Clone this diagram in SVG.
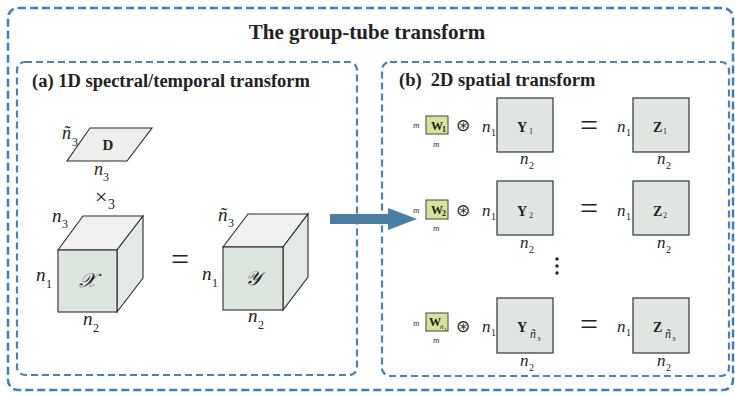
<svg xmlns="http://www.w3.org/2000/svg" width="735" height="395" viewBox="0 0 735 395">
<style>
text{font-family:"Liberation Serif","Times New Roman",serif;fill:#222}
.ttl{font-weight:bold;font-size:21px}
.ptl{font-weight:bold;font-size:18.5px}
.n{font-style:italic;font-size:19px}
.ns{font-size:12px}
.rn{font-style:italic;font-size:17px}
.rs{font-size:10px}
.m{font-style:italic;font-size:9px;fill:#333}
.w{font-weight:bold;font-size:12px}
.ws{font-weight:bold;font-size:8px}
.bl{font-weight:bold;font-size:14px}
.bs{font-size:8px}
.eq{font-size:32px}
.outer{fill:none;stroke:#3b7fc2;stroke-width:2.5;stroke-dasharray:8 4}
.panel{fill:none;stroke:#4a84aa;stroke-width:2.2;stroke-dasharray:7 4}
.front{fill:#dde5df;stroke:#2a2a2a;stroke-width:1.1}
.top{fill:#f1f2f0;stroke:#2a2a2a;stroke-width:1.1}
.side{fill:#e3e9e5;stroke:#2a2a2a;stroke-width:1.1}
.sq{fill:#dfe6e1;stroke:#333;stroke-width:1.2}
.wb{fill:#d6e39a;stroke:#444;stroke-width:1}
.sc{font-family:"DejaVu Serif","DejaVu Sans",serif;font-style:italic;font-size:20px}
.ox{font-family:"DejaVu Sans",sans-serif;font-size:17px}
</style>

<g id="frame">
  <rect class="outer" x="8" y="8" width="725" height="382" rx="10"/>
  <text class="ttl" x="367" y="39" text-anchor="middle">The group-tube transform</text>
</g>

<g id="panel-a">
  <rect class="panel" x="17" y="62" width="340" height="313" rx="8"/>
  <text class="ptl" x="32" y="87">(a) 1D spectral/temporal transform</text>
</g>

<g id="panel-b">
  <rect class="panel" x="382" y="62" width="347" height="314" rx="8"/>
  <text class="ptl" x="399" y="86" xml:space="preserve">(b)  2D spatial transform</text>
</g>

<g id="node-D">
  <polygon points="90,128 152,128 127,161 67,161" fill="#eeefed" stroke="#2a2a2a" stroke-width="1.1"/>
  <text class="bl" x="108" y="150" text-anchor="middle" style="font-size:15px">D</text>
  <text class="n" x="62" y="139" style="font-size:18px">ñ</text><text class="ns" x="72" y="146">3</text>
  <text class="n" x="94" y="175" style="font-size:18px">n</text><text class="ns" x="103" y="181">3</text>
</g>

<g id="op-mode3">
  <text x="95" y="204" style="font-size:22px">×</text>
  <text x="108" y="209" style="font-size:14px">3</text>
</g>

<g id="node-X">
  <polygon class="top" points="58,250 83,216 143,216 117,250"/>
  <polygon class="side" points="117,250 143,216 143,278 117,312"/>
  <rect class="front" x="58" y="250" width="59" height="62"/>
  <text class="sc" x="87" y="287" text-anchor="middle">𝒳</text>
  <text class="n" x="52" y="222">n</text><text class="ns" x="62" y="228">3</text>
  <text class="n" x="36" y="281">n</text><text class="ns" x="46" y="288">1</text>
  <text class="n" x="83" y="325">n</text><text class="ns" x="93" y="332">2</text>
</g>

<g id="eq-left">
  <text class="eq" x="180" y="270" text-anchor="middle">=</text>
</g>

<g id="node-Y">
  <polygon class="top" points="223,247 248,214 308,214 283,247"/>
  <polygon class="side" points="283,247 308,214 308,277 283,310"/>
  <rect class="front" x="223" y="247" width="60" height="63"/>
  <text class="sc" x="253" y="285" text-anchor="middle">𝒴</text>
  <text class="n" x="218" y="221">ñ</text><text class="ns" x="228" y="227">3</text>
  <text class="n" x="202" y="280">n</text><text class="ns" x="212" y="287">1</text>
  <text class="n" x="248" y="322">n</text><text class="ns" x="258" y="329">2</text>
</g>

<g id="connectors">
  <polygon points="330,214 388,214 388,208 417,219 388,230 388,224 330,224" fill="#4a7fa3"/>
</g>

<!-- Row 1 -->
<g id="row1-W">
  <rect class="wb" x="426" y="116" width="22" height="18"/>
  <text class="w" x="431" y="130">W</text><text class="ws" x="442" y="132">1</text>
  <text class="m" x="413" y="128">m</text>
  <text class="m" x="433" y="147">m</text>
  <text class="ox" x="463" y="131" text-anchor="middle">⊛</text>
</g>
<g id="row1-Y">
  <text class="rn" x="482" y="132">n</text><text class="rs" x="491" y="136">1</text>
  <rect class="sq" x="497" y="98" width="56" height="54"/>
  <text class="bl" x="517" y="132">Y</text><text class="bs" x="529" y="134">1</text>
  <text class="rn" x="520" y="164">n</text><text class="rs" x="529" y="169">2</text>
</g>
<g id="row1-eq"><text class="eq" x="589" y="136" text-anchor="middle">=</text></g>
<g id="row1-Z">
  <text class="rn" x="617" y="132">n</text><text class="rs" x="626" y="136">1</text>
  <rect class="sq" x="633" y="98" width="56" height="54"/>
  <text class="bl" x="653" y="132">Z</text><text class="bs" x="663" y="134">1</text>
  <text class="rn" x="657" y="164">n</text><text class="rs" x="666" y="169">2</text>
</g>

<!-- Row 2 -->
<g id="row2-W">
  <rect class="wb" x="426" y="200" width="22" height="19"/>
  <text class="w" x="431" y="214">W</text><text class="ws" x="442" y="216">2</text>
  <text class="m" x="413" y="213">m</text>
  <text class="m" x="433" y="231">m</text>
  <text class="ox" x="463" y="216" text-anchor="middle">⊛</text>
</g>
<g id="row2-Y">
  <text class="rn" x="482" y="216">n</text><text class="rs" x="491" y="220">1</text>
  <rect class="sq" x="497" y="181" width="56" height="54"/>
  <text class="bl" x="517" y="216">Y</text><text class="bs" x="529" y="218">2</text>
  <text class="rn" x="520" y="248">n</text><text class="rs" x="529" y="253">2</text>
</g>
<g id="row2-eq"><text class="eq" x="589" y="219" text-anchor="middle">=</text></g>
<g id="row2-Z">
  <text class="rn" x="617" y="216">n</text><text class="rs" x="626" y="220">1</text>
  <rect class="sq" x="633" y="181" width="56" height="54"/>
  <text class="bl" x="653" y="216">Z</text><text class="bs" x="663" y="218">2</text>
  <text class="rn" x="657" y="248">n</text><text class="rs" x="666" y="253">2</text>
</g>

<g id="vdots">
  <circle cx="557" cy="259" r="1.7" fill="#222"/>
  <circle cx="557" cy="266" r="1.7" fill="#222"/>
  <circle cx="557" cy="273" r="1.7" fill="#222"/>
</g>

<!-- Row 3 -->
<g id="row3-W">
  <rect class="wb" x="426" y="313" width="22" height="18"/>
  <text class="w" x="429" y="326">W</text><text class="ws" x="440" y="329" style="font-style:italic;font-weight:normal;font-size:7px">ñ</text><text x="444" y="331" style="font-size:5px">3</text>
  <text class="m" x="413" y="326">m</text>
  <text class="m" x="433" y="343">m</text>
  <text class="ox" x="463" y="332" text-anchor="middle">⊛</text>
</g>
<g id="row3-Y">
  <text class="rn" x="482" y="332">n</text><text class="rs" x="491" y="336">1</text>
  <rect class="sq" x="497" y="298" width="56" height="55"/>
  <text class="bl" x="517" y="332">Y</text><text x="530" y="338" style="font-style:italic;font-size:12px">ñ</text><text x="537" y="341" style="font-size:7px">3</text>
  <text class="rn" x="520" y="366">n</text><text class="rs" x="529" y="371">2</text>
</g>
<g id="row3-eq"><text class="eq" x="589" y="335" text-anchor="middle">=</text></g>
<g id="row3-Z">
  <text class="rn" x="617" y="332">n</text><text class="rs" x="626" y="336">1</text>
  <rect class="sq" x="633" y="298" width="56" height="55"/>
  <text class="bl" x="653" y="332">Z</text><text x="665" y="338" style="font-style:italic;font-size:12px">ñ</text><text x="672" y="341" style="font-size:7px">3</text>
  <text class="rn" x="657" y="366">n</text><text class="rs" x="666" y="371">2</text>
</g>
</svg>
